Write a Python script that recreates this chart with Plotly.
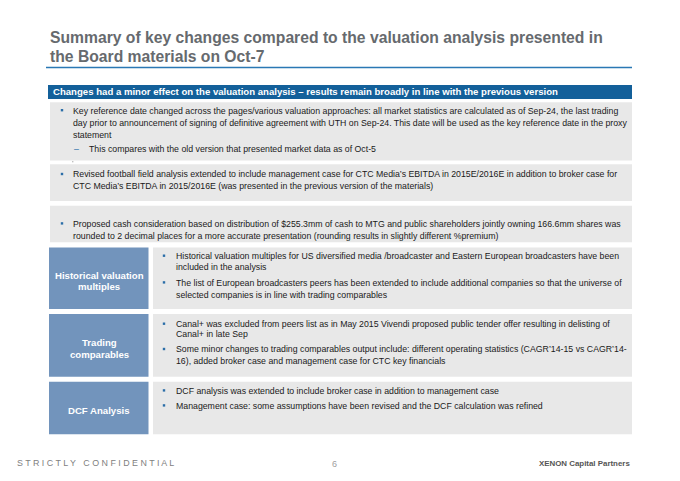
import plotly.graph_objects as go

# ---- content ----
title_lines = [
    "Summary of key changes compared to the valuation analysis presented in",
    "the Board materials on Oct-7",
]
banner_text = "Changes had a minor effect on the valuation analysis \u2013 results remain broadly in line with the previous version"

top_box1_lines = [
    ("bullet", "Key reference date changed across the pages/various valuation approaches: all market statistics are calculated as of Sep-24, the last trading"),
    ("cont", "day prior to announcement of signing of definitive agreement with UTH on Sep-24. This date will be used as the key reference date in the proxy"),
    ("cont", "statement"),
    ("dash", "This compares with the old version that presented market data as of Oct-5"),
]
top_box2_lines = [
    ("bullet", "Revised football field analysis extended to include management case for CTC Media\u2019s EBITDA in 2015E/2016E in addition to broker case for"),
    ("cont", "CTC Media\u2019s EBITDA in 2015/2016E (was presented in the previous version of the materials)"),
]
top_box3_lines = [
    ("bullet", "Proposed cash consideration based on distribution of $255.3mm of cash to MTG and public shareholders jointly owning 166.6mm shares was"),
    ("cont", "rounded to 2 decimal places for a more accurate presentation (rounding results in slightly different %premium)"),
]

section_labels = [
    ["Historical valuation", "multiples"],
    ["Trading", "comparables"],
    ["DCF Analysis"],
]
section_lines = [
    [
        ("bullet", "Historical valuation multiples for US diversified media /broadcaster and Eastern European broadcasters have been"),
        ("cont", "included in the analysis"),
        ("bullet", "The list of European broadcasters peers has been extended to include additional companies so that the universe of"),
        ("cont", "selected companies is in line with trading comparables"),
    ],
    [
        ("bullet", "Canal+ was excluded from peers list as in May 2015 Vivendi proposed public tender offer resulting in delisting of"),
        ("cont", "Canal+ in late Sep"),
        ("bullet", "Some minor changes to trading comparables output include: different operating statistics (CAGR\u201914-15 vs CAGR\u201914-"),
        ("cont", "16), added broker case and management case for CTC key financials"),
    ],
    [
        ("bullet", "DCF analysis was extended to include broker case in addition to management case"),
        ("bullet", "Management case: some assumptions have been revised and the DCF calculation was refined"),
    ],
]
footer_left = "S T R I C T L Y   C O N F I D E N T I A L"
footer_page = "6"
footer_right = "XENON Capital Partners"

# ---- layout constants (pixels) ----
W, H = 680, 481
BODY_FONT = "Liberation Sans, Arial, sans-serif"
HEAD_FONT = "Liberation Sans, Arial, sans-serif"
GRAY_BOX = "#e8e8e8"
BANNER = "#13609a"
LABEL_BOX = "#7294bc"
TEXT = "#1a1a1a"
BODY_SIZE = 8.75

shapes = []
annots = []


def rect(x0, y0, x1, y1, color, layer="below"):
    shapes.append(dict(type="rect", xref="x", yref="y", x0=x0, y0=y0, x1=x1, y1=y1,
                       fillcolor=color, line=dict(width=0), layer=layer))


def text(x, y, s, size=BODY_SIZE, color=TEXT, bold=False, anchor="left", family=BODY_FONT):
    if bold:
        s = "<b>" + s + "</b>"
    annots.append(dict(x=x, y=y, xref="x", yref="y", text=s, showarrow=False,
                       xanchor=anchor, yanchor="middle",
                       font=dict(family=family, size=size, color=color)))


def bullet_lines(lines, ys, xb, xt, xd, xdt):
    for (kind, s), y in zip(lines, ys):
        if kind == "bullet":
            rect(xb - 1.2, y - 1.5, xb + 1.2, y + 0.9, "#2b6ea8", layer="above")
            text(xt, y, s)
        elif kind == "cont":
            text(xt, y, s)
        else:
            text(xd, y, "\u2013", color="#2b6ea8")
            text(xdt, y, s)


# title
text(48, 37.5, title_lines[0], size=15.7, color="#666a6e", bold=True, family=HEAD_FONT)
text(48, 56.5, title_lines[1], size=15.7, color="#666a6e", bold=True, family=HEAD_FONT)
shapes.append(dict(type="line", xref="x", yref="y", x0=46, x1=632, y0=67.5, y1=67.5,
                   line=dict(color="#2a78b4", width=1.6)))

# banner
rect(48, 85, 632, 99, BANNER)
text(51, 91.8, banner_text, size=9.6, color="white", bold=True)

# top boxes
rect(50, 102.3, 632, 160.5, GRAY_BOX)
bullet_lines(top_box1_lines, [110.5, 122.7, 135, 149.3], 62, 71, 72, 87)
rect(72.3, 161.2, 73.3, 162.2, "#8a8a8a", layer="above")  # stray dot under first box
rect(50, 164.3, 632, 201, GRAY_BOX)
bullet_lines(top_box2_lines, [174.3, 186], 62, 71, 72, 87)
rect(50, 205.7, 632, 242.3, GRAY_BOX)
bullet_lines(top_box3_lines, [223.7, 235.7], 62, 71, 72, 87)

# sections
sec_boxes = [(247.5, 309), (314, 376.7), (381.7, 434.3)]
label_ys = [[275, 286.7], [342.3, 354], [410.3]]
bullet_ys = [[256, 267.3, 282.7, 295], [324, 334.3, 349.3, 361], [390.7, 405.7]]
for (y0, y1), lab, lys, lines, bys in zip(sec_boxes, section_labels, label_ys, section_lines, bullet_ys):
    rect(49, y0, 148.5, y1, LABEL_BOX)
    rect(153, y0, 632, y1, GRAY_BOX)
    for s, y in zip(lab, lys):
        text(99, y, s, size=9.6, color="white", bold=True, anchor="center")
    bullet_lines(lines, bys, 164, 174, 174, 188)

# footer
text(15, 463.3, footer_left, size=8.9, color="#808080", family=HEAD_FONT)
text(334, 463.8, footer_page, size=9, color="#a0a0a0", anchor="center", family=HEAD_FONT)
text(632, 463.8, footer_right, size=7.9, color="#555555", bold=True, anchor="right", family=BODY_FONT)

fig = go.Figure()
fig.update_layout(
    width=W, height=H,
    margin=dict(l=0, r=0, t=0, b=0),
    paper_bgcolor="white", plot_bgcolor="white",
    xaxis=dict(range=[0, W], visible=False, fixedrange=True),
    yaxis=dict(range=[H, 0], visible=False, fixedrange=True),
    shapes=shapes, annotations=annots, showlegend=False,
)
fig.write_html("out.html", config={"displayModeBar": False},
               post_script="document.body.style.margin='0';document.body.style.overflow='hidden';")
